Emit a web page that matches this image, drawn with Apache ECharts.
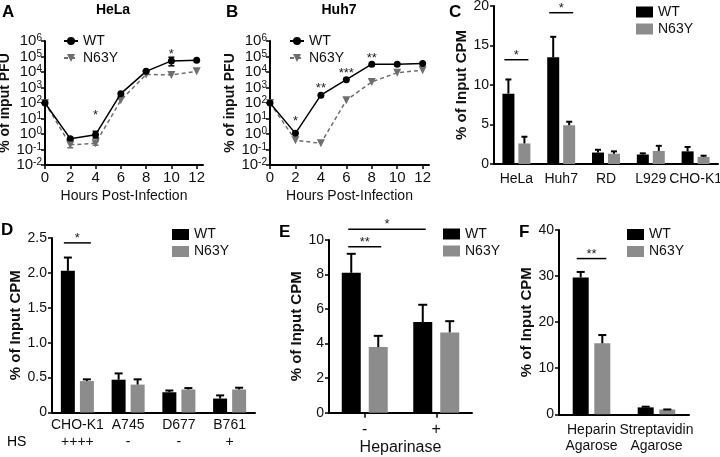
<!DOCTYPE html>
<html><head><meta charset="utf-8">
<script src="https://cdn.jsdelivr.net/npm/echarts@6/dist/echarts.min.js"></script>
<style>html,body{margin:0;padding:0;background:#fff}#c{width:720px;height:457px}</style>
</head><body><div id="c"></div>
<script>
// ---------------- Data ----------------
var hours = [0, 2, 4, 6, 8, 10, 12];
var hourTicks = [0, 2, 4, 6, 8, 10, 12];
var helaWT = [100, 0.5, 0.9, 400, 11000, 52000, 58000];
var helaN63Y = [100, 0.2, 0.25, 150, 7000, 6500, 11000];
var helaWTErr = [[2, 0.42, 0.6], [4, 0.55, 1.5], [10, 25000, 90000]];   // [hour, low, high]
var helaN63YErr = [[2, 0.13, 0.3], [4, 0.19, 0.32]];
var helaStars = [[4, 26], [10, 220000]];
var helaStarText = ['*', '*'];

var huhWT = [100, 1.1, 320, 3200, 32000, 32000, 36000];
var huhN63Y = [100, 0.4, 0.25, 150, 2300, 9000, 13000];
var huhStars = [[2, 10.7], [4, 1450], [6, 13500], [8, 126000]];
var huhStarText = ['*', '**', '***', '**'];

var cCats = ['HeLa', 'Huh7', 'RD', 'L929', 'CHO-K1'];
var cWT = [8.9, 13.5, 1.45, 1.2, 1.6];
var cWTErr = [1.8, 2.6, 0.35, 0.15, 0.55];
var cN63Y = [2.6, 4.9, 1.3, 1.65, 0.9];
var cN63YErr = [0.85, 0.45, 0.3, 0.65, 0.15];
var cSig = [[0, 0, 0, 1, 13.2], [1, 0, 1, 1, 19.15]];   // [cat1, bar1, cat2, bar2, y]
var cSigText = ['*', '*'];

var dCats = ['CHO-K1', 'A745', 'D677', 'B761'];
var dHS = ['++++', '-', '-', '+'];
var dWT = [2.03, 0.47, 0.29, 0.2];
var dWTErr = [0.19, 0.09, 0.025, 0.045];
var dN63Y = [0.45, 0.40, 0.33, 0.33];
var dN63YErr = [0.025, 0.075, 0.02, 0.025];
var dSig = [[0, 0, 0, 1, 2.43]];
var dSigText = ['*'];

var eCats = ['-', '+'];
var eWT = [8.1, 5.25];
var eWTErr = [1.1, 1.0];
var eN63Y = [3.8, 4.65];
var eN63YErr = [0.65, 0.65];
var eSig = [[0, 0, 0, 1, 9.61], [0, 0, 1, 0, 10.62]];
var eSigText = ['**', '*'];

var fCats = ['Heparin\nAgarose', 'Streptavidin\nAgarose'];
var fWT = [29.7, 1.5];
var fWTErr = [1.2, 0.15];
var fN63Y = [15.4, 1.05];
var fN63YErr = [1.8, 0.0];
var fSig = [[0, 0, 0, 1, 33.8]];
var fSigText = ['**'];

// ---------------- Styles ----------------
var FONT = '"Liberation Sans", Arial, Helvetica, sans-serif';
var TXT = '#111';
var GRAY = '#8c8c8c';
var LGRAY = '#6e6e6e';

function axLine() { return { show: true, onZero: false, lineStyle: { color: '#000', width: 2 } }; }
function logLabel(v) { var e = Math.round(Math.log10(v)); return '{b|10}{s|' + e + '}'; }

function lineErr(color) {
  return function (params, api) {
    var x = api.value(0);
    var p0 = api.coord([x, api.value(1)]), p1 = api.coord([x, api.value(2)]);
    var st = { stroke: color, lineWidth: 1.5 };
    return { type: 'group', children: [
      { type: 'line', shape: { x1: p0[0], y1: p0[1], x2: p1[0], y2: p1[1] }, style: st },
      { type: 'line', shape: { x1: p0[0] - 3, y1: p0[1], x2: p0[0] + 3, y2: p0[1] }, style: st },
      { type: 'line', shape: { x1: p1[0] - 3, y1: p1[1], x2: p1[0] + 3, y2: p1[1] }, style: st }
    ] };
  };
}
function starRender(texts) {
  return function (params, api) {
    var p = api.coord([api.value(0), api.value(1)]);
    return { type: 'text', x: p[0], y: p[1] + 3, style: { text: texts[params.dataIndex], fontSize: 13, fontFamily: FONT, fill: '#222', textAlign: 'center', textVerticalAlign: 'middle' } };
  };
}
function barErr(offset, cap) {
  return function (params, api) {
    var c = api.value(0), v = api.value(1), e = api.value(2);
    var p0 = api.coord([c, v]), p1 = api.coord([c, v + e]);
    var x = p0[0] + offset;
    var st = { stroke: '#000', lineWidth: 2 };
    return { type: 'group', children: [
      { type: 'line', shape: { x1: x, y1: p0[1], x2: x, y2: p1[1] }, style: st },
      { type: 'line', shape: { x1: x - cap / 2, y1: p1[1], x2: x + cap / 2, y2: p1[1] }, style: st }
    ] };
  };
}
function bracket(off, ext, texts) {
  return function (params, api) {
    var y = api.value(4);
    var p1 = api.coord([api.value(0), y]), p2 = api.coord([api.value(2), y]);
    var x1 = p1[0] + (api.value(1) ? off : -off) - ext;
    var x2 = p2[0] + (api.value(3) ? off : -off) + ext;
    return { type: 'group', children: [
      { type: 'line', shape: { x1: x1, y1: p1[1], x2: x2, y2: p1[1] }, style: { stroke: '#000', lineWidth: 1.5 } },
      { type: 'text', x: (x1 + x2) / 2, y: p1[1] - 4.5, style: { text: texts[params.dataIndex], fontSize: 13, fontFamily: FONT, fill: '#222', textAlign: 'center', textVerticalAlign: 'middle' } }
    ] };
  };
}
function pairs(xs, ys) { return xs.map(function (x, i) { return [x, ys[i]]; }); }
function errData(vals, errs) { return vals.map(function (v, i) { return [i, v, errs[i]]; }); }

function logY(gi) {
  return {
    gridIndex: gi, type: 'log', logBase: 10, min: 0.01, max: 1e6,
    axisLine: axLine(), axisTick: { show: true, length: 4, lineStyle: { color: '#000', width: 1.5 } },
    splitLine: { show: false }, minorTick: { show: false },
    axisLabel: { formatter: logLabel, margin: 3, showMinLabel: true, showMaxLabel: true, hideOverlap: false,
      rich: {
        b: { fontSize: 15, fontFamily: FONT, color: TXT, lineHeight: 15, verticalAlign: 'bottom' },
        s: { fontSize: 10, fontFamily: FONT, color: TXT, lineHeight: 10, verticalAlign: 'top' } } },
    name: '% of input PFU', nameLocation: 'middle', nameGap: 30,
    nameTextStyle: { fontSize: 14, fontWeight: 'bold', fontFamily: FONT, color: TXT }
  };
}
function hourX(gi) {
  return {
    gridIndex: gi, type: 'value', min: 0, max: 12.5, interval: 2,
    axisLine: axLine(),
    axisTick: { show: true, length: 4, customValues: hourTicks, lineStyle: { color: '#000', width: 1.5 } },
    axisLabel: { customValues: hourTicks, fontSize: 15, margin: 5, color: TXT, fontFamily: FONT,
      formatter: function (v) { return hourTicks.indexOf(v) >= 0 ? String(v) : ''; } },
    splitLine: { show: false },
    name: 'Hours Post-Infection', nameLocation: 'middle', nameGap: 24,
    nameTextStyle: { fontSize: 14, fontFamily: FONT, color: TXT }
  };
}
function cpmY(gi, max, interval, gap, fmt) {
  return {
    gridIndex: gi, type: 'value', min: 0, max: max, interval: interval,
    axisLine: axLine(), axisTick: { show: true, length: 4, lineStyle: { color: '#000', width: 1.5 } },
    splitLine: { show: false },
    axisLabel: { fontSize: 14, margin: 5, color: TXT, fontFamily: FONT, formatter: fmt, showMinLabel: true, showMaxLabel: true },
    name: '% of Input CPM', nameLocation: 'middle', nameGap: gap,
    nameTextStyle: { fontSize: 15, fontWeight: 'bold', fontFamily: FONT, color: TXT }
  };
}
function lineLegend(left, top) {
  return { left: left, top: top, orient: 'vertical', selectedMode: false, data: ['WT', 'N63Y'],
    itemWidth: 14, itemHeight: 10, itemGap: 3, padding: 0,
    textStyle: { fontSize: 14, fontFamily: FONT, color: TXT } };
}
function barLegend(left, top) {
  return { left: left, top: top, orient: 'vertical', selectedMode: false, data: ['WT ', 'N63Y '],
    icon: 'rect', itemWidth: 17, itemHeight: 11, itemGap: 3, padding: 0,
    formatter: function (n) { return n.trim(); },
    textStyle: { fontSize: 14, fontFamily: FONT, color: TXT } };
}
function barSeries(gi, wt, mt, bw, gap) {
  return [
    { type: 'bar', name: 'WT ', xAxisIndex: gi, yAxisIndex: gi, data: wt, barWidth: bw, barGap: gap, itemStyle: { color: '#000' } },
    { type: 'bar', name: 'N63Y ', xAxisIndex: gi, yAxisIndex: gi, data: mt, barWidth: bw, barGap: gap, itemStyle: { color: GRAY } }
  ];
}
function custom(gi, render, data, encode) {
  return { type: 'custom', xAxisIndex: gi, yAxisIndex: gi, renderItem: render, data: data, z: 5, clip: false, encode: encode || { x: 0, y: 1 } };
}
function title(text, left, top, size, weight, align) {
  return { text: text, left: left, top: top, padding: 0, textAlign: align || 'left',
    textStyle: { fontSize: size, fontWeight: weight, fontFamily: FONT, color: '#000' } };
}

var option = {
  animation: false,
  textStyle: { fontFamily: FONT, color: TXT },
  title: [
    title('A', 2, 4, 17, 'bold'), title('B', 226, 4, 17, 'bold'), title('C', 449, 4, 17, 'bold'),
    title('D', 1, 222, 17, 'bold'), title('E', 279, 224, 17, 'bold'), title('F', 519, 224, 17, 'bold'),
    title('HeLa', 113, 3, 14, 'bold', 'center'), title('Huh7', 339, 3, 14, 'bold', 'center'),
    title('HS', 7, 435, 14, 'normal')
  ],
  legend: [lineLegend(63, 34), lineLegend(289, 34), barLegend(636, 5), barLegend(172, 227.5), barLegend(443, 227), barLegend(627, 227.5)],
  grid: [
    { left: 45, top: 41, width: 158, height: 124, outerBoundsMode: 'none' },
    { left: 270, top: 41, width: 159, height: 124, outerBoundsMode: 'none' },
    { left: 494, top: 6, width: 224, height: 158, outerBoundsMode: 'none' },
    { left: 52, top: 238, width: 203, height: 174.5, outerBoundsMode: 'none' },
    { left: 329, top: 240, width: 143, height: 172.7, outerBoundsMode: 'none' },
    { left: 559, top: 230, width: 130, height: 184.3, outerBoundsMode: 'none' }
  ],
  xAxis: [
    hourX(0), hourX(1),
    { gridIndex: 2, type: 'category', data: cCats, axisLine: axLine(), axisTick: { show: false },
      axisLabel: { interval: 0, fontSize: 14, margin: 8, color: TXT, fontFamily: FONT } },
    { gridIndex: 3, type: 'category', data: dCats, axisLine: axLine(), axisTick: { show: false },
      axisLabel: { interval: 0, margin: 4, formatter: function (v, i) { return '{a|' + v + '}\n{a|' + dHS[i] + '}'; },
        rich: { a: { fontSize: 14, lineHeight: 17, color: TXT, fontFamily: FONT } } } },
    { gridIndex: 4, type: 'category', data: eCats, axisLine: axLine(),
      axisTick: { show: true, alignWithLabel: true, length: 5, lineStyle: { color: '#000', width: 1.5 } },
      axisLabel: { interval: 0, fontSize: 16, margin: 9, color: TXT, fontFamily: FONT },
      name: 'Heparinase', nameLocation: 'middle', nameGap: 27,
      nameTextStyle: { fontSize: 16, color: TXT, fontFamily: FONT } },
    { gridIndex: 5, type: 'category', data: fCats, axisLine: axLine(), axisTick: { show: false },
      axisLabel: { interval: 0, fontSize: 14, lineHeight: 16, margin: 8, color: TXT, fontFamily: FONT } }
  ],
  yAxis: [
    logY(0), logY(1),
    cpmY(2, 20, 5, 20),
    cpmY(3, 2.5, 0.5, 26, function (v) { return v === 0 ? '0' : v.toFixed(1); }),
    cpmY(4, 10, 2, 24.5),
    cpmY(5, 40, 10, 24.5)
  ],
  series: [].concat(
    [
      { type: 'line', name: 'WT', xAxisIndex: 0, yAxisIndex: 0, data: pairs(hours, helaWT), symbol: 'circle', symbolSize: 7,
        itemStyle: { color: '#000' }, lineStyle: { color: '#000', width: 1.5 }, z: 4 },
      { type: 'line', name: 'N63Y', xAxisIndex: 0, yAxisIndex: 0, data: pairs(hours, helaN63Y), symbol: 'triangle', symbolRotate: 180, symbolSize: 8,
        itemStyle: { color: LGRAY }, lineStyle: { color: LGRAY, width: 1.5, type: [4, 3] }, z: 3 },
      custom(0, lineErr('#000'), helaWTErr),
      custom(0, lineErr(LGRAY), helaN63YErr),
      custom(0, starRender(helaStarText), helaStars),
      { type: 'line', name: 'WT', xAxisIndex: 1, yAxisIndex: 1, data: pairs(hours, huhWT), symbol: 'circle', symbolSize: 7,
        itemStyle: { color: '#000' }, lineStyle: { color: '#000', width: 1.5 }, z: 4 },
      { type: 'line', name: 'N63Y', xAxisIndex: 1, yAxisIndex: 1, data: pairs(hours, huhN63Y), symbol: 'triangle', symbolRotate: 180, symbolSize: 8,
        itemStyle: { color: LGRAY }, lineStyle: { color: LGRAY, width: 1.5, type: [4, 3] }, z: 3 },
      custom(1, starRender(huhStarText), huhStars)
    ],
    barSeries(2, cWT, cN63Y, 12, '33%'),
    [custom(2, barErr(-8, 6), errData(cWT, cWTErr)), custom(2, barErr(8, 6), errData(cN63Y, cN63YErr)),
     custom(2, bracket(8, 4, cSigText), cSig, { x: 0, y: 4 })],
    barSeries(3, dWT, dN63Y, 14, '36%'),
    [custom(3, barErr(-9.5, 8), errData(dWT, dWTErr)), custom(3, barErr(9.5, 8), errData(dN63Y, dN63YErr)),
     custom(3, bracket(9.5, 4, dSigText), dSig, { x: 0, y: 4 })],
    barSeries(4, eWT, eN63Y, 19, '42%'),
    [custom(4, barErr(-13.5, 9), errData(eWT, eWTErr)), custom(4, barErr(13.5, 9), errData(eN63Y, eN63YErr)),
     custom(4, bracket(13.5, 3, eSigText), eSig, { x: 0, y: 4 })],
    barSeries(5, fWT, fN63Y, 16, '35%'),
    [custom(5, barErr(-10.8, 8), errData(fWT, fWTErr)), custom(5, barErr(10.8, 8), errData(fN63Y, fN63YErr)),
     custom(5, bracket(10.8, 4, fSigText), fSig, { x: 0, y: 4 })]
  )
};
var chart = echarts.init(document.getElementById('c'), null, { renderer: 'canvas' });
chart.setOption(option);
</script>
</body></html>
